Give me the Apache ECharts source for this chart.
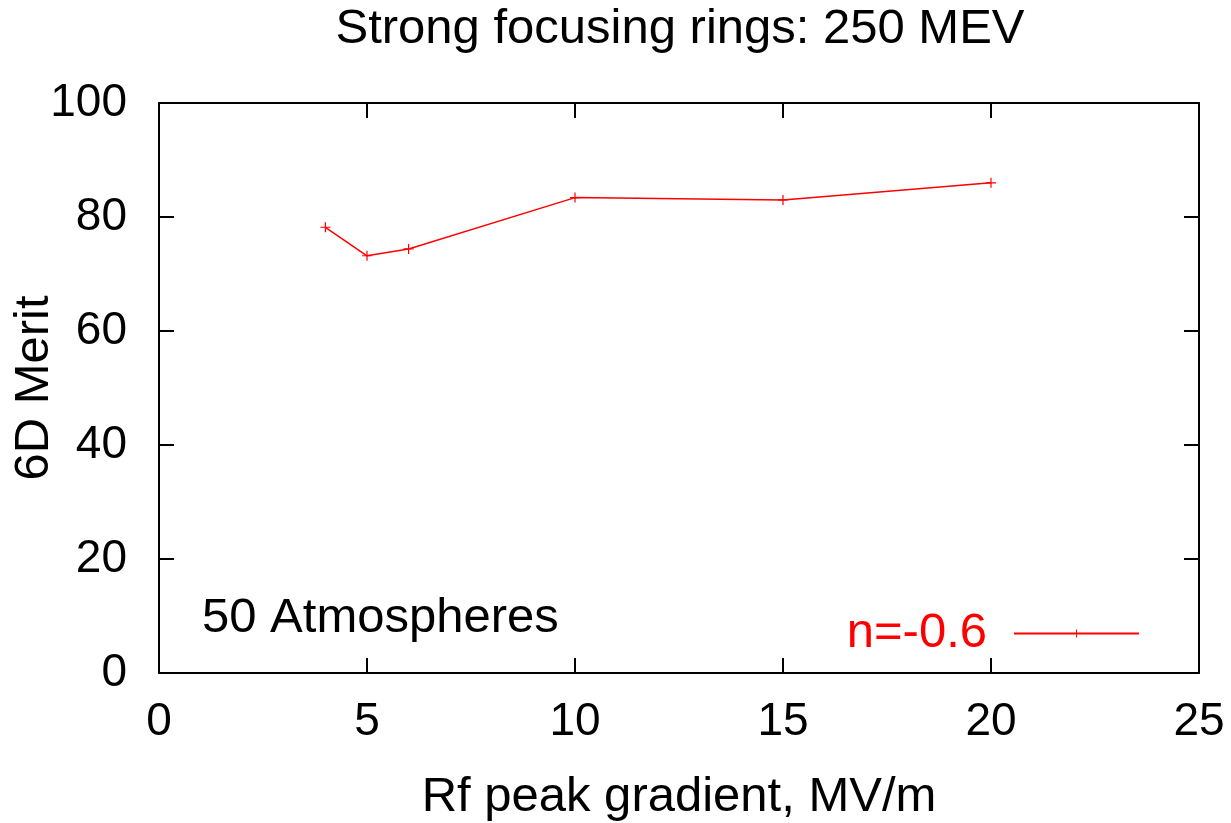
<!DOCTYPE html>
<html>
<head>
<meta charset="utf-8">
<script src="https://cdn.jsdelivr.net/npm/echarts@6/dist/echarts.min.js"></script>
<style>
  html, body { margin: 0; padding: 0; background: #fff; }
  #chart { width: 1231px; height: 823px; }
</style>
</head>
<body>
<div id="chart"></div>
<script>
// Rf peak gradient (MV/m) and the resulting 6D merit
const gradient = [4, 5, 6, 10, 15, 20];
const merit = [78.2, 73.2, 74.4, 83.4, 83.0, 86.0];
const seriesName = 'n=-0.6';
const xTicks = [0, 5, 10, 15, 20, 25];
const yTicks = [0, 20, 40, 60, 80, 100];

const FONT = '"Liberation Sans", Arial, sans-serif';
const FS = 49;      // titles, legend, annotation
const TICK_FS = 46; // tick labels
const plus = 'path://M-0.6,-5h1.2v10h-1.2z M-5,-0.6h10v1.2h-10z';

const chart = echarts.init(document.getElementById('chart'), null, { renderer: 'canvas' });

const tickCommon = { show: true, inside: true, length: 15, lineStyle: { color: '#000', width: 2 } };
const lineCommon = { show: true, onZero: false, lineStyle: { color: '#000', width: 2 } };

chart.setOption({
  animation: false,
  backgroundColor: '#fff',
  textStyle: { fontFamily: FONT },
  grid: { left: 159, right: 32, top: 103, bottom: 150, show: false, outerBoundsMode: 'none', containLabel: false },
  legend: {
    data: [seriesName],
    right: 91,
    top: 609,
    padding: 0,
    align: 'right',
    itemWidth: 125,
    itemHeight: 10,
    textStyle: { color: '#ff0000', fontFamily: FONT, fontSize: FS, padding: [0, 22, 0, 0] }
  },
  xAxis: [{
    type: 'value',
    min: xTicks[0], max: xTicks[xTicks.length - 1], interval: 5,
    name: 'Rf peak gradient, MV/m',
    nameLocation: 'middle',
    nameGap: 100,
    nameMoveOverlap: false,
    nameTextStyle: { fontFamily: FONT, fontSize: FS, color: '#000' },
    axisLine: lineCommon,
    axisTick: tickCommon,
    axisLabel: { color: '#000', fontFamily: FONT, fontSize: TICK_FS, margin: 26 },
    splitLine: { show: false }
  }, {
    type: 'value', position: 'top',
    min: xTicks[0], max: xTicks[xTicks.length - 1], interval: 5,
    axisLine: lineCommon,
    axisTick: tickCommon,
    axisLabel: { show: false },
    splitLine: { show: false }
  }],
  yAxis: [{
    type: 'value',
    min: yTicks[0], max: yTicks[yTicks.length - 1], interval: 20,
    name: '6D Merit',
    nameLocation: 'middle',
    nameGap: 100,
    nameMoveOverlap: false,
    nameRotate: 90,
    nameTextStyle: { fontFamily: FONT, fontSize: FS, color: '#000' },
    axisLine: lineCommon,
    axisTick: tickCommon,
    axisLabel: { color: '#000', fontFamily: FONT, fontSize: TICK_FS, margin: 32 },
    splitLine: { show: false }
  }, {
    type: 'value', position: 'right',
    min: yTicks[0], max: yTicks[yTicks.length - 1], interval: 20,
    axisLine: lineCommon,
    axisTick: tickCommon,
    axisLabel: { show: false },
    splitLine: { show: false }
  }],
  graphic: [{
    type: 'text',
    x: 680,
    y: 29,
    style: {
      text: 'Strong focusing rings: 250 MEV', fill: '#000',
      font: FS + 'px ' + FONT, textAlign: 'center', textVerticalAlign: 'middle'
    }
  }, {
    type: 'text',
    x: 202,
    y: 618,
    style: {
      text: '50 Atmospheres', fill: '#000',
      font: FS + 'px ' + FONT, textAlign: 'left', textVerticalAlign: 'middle'
    }
  }],
  series: [{
    name: seriesName,
    type: 'line',
    data: gradient.map((g, i) => [g, merit[i]]),
    symbol: plus,
    symbolSize: 10,
    showAllSymbol: true,
    lineStyle: { color: '#ff0000', width: 1.5 },
    itemStyle: { color: '#ff0000' }
  }]
});
</script>
</body>
</html>
